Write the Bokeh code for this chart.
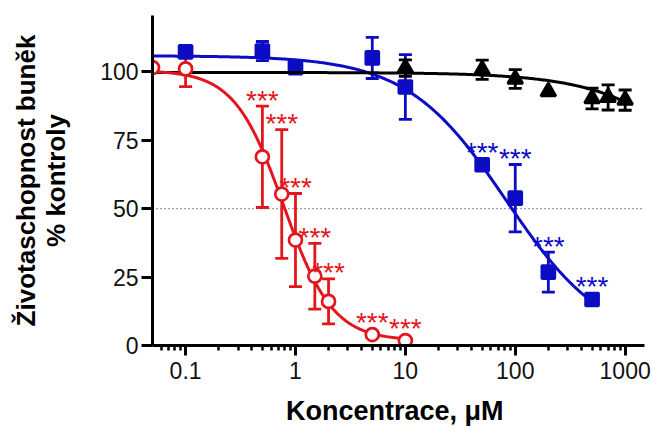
import numpy as np
from bokeh.plotting import figure
from bokeh.models import Range1d, FixedTicker, Whisker, TeeHead, ColumnDataSource, Span
from bokeh.embed import file_html
from bokeh.resources import INLINE
from bokeh.core.properties import value

# ---- data ----
red_x = [0.05, 0.1, 0.5, 0.75, 1, 1.5, 2, 5, 10]
red_y = [101.5, 101.0, 68.9, 55.3, 38.5, 25.3, 16.1, 4.0, 1.8]
red_err = [0, 6.5, 18.5, 23.5, 17.0, 12.0, 8.2, 0, 0]
red_sig = ["", "", "***", "***", "***", "***", "***", "***", "***"]

blue_x = [0.1, 0.5, 1, 5, 10, 50, 100, 200, 500]
blue_y = [107.2, 107.5, 101.5, 105.0, 94.4, 66.0, 53.8, 26.8, 16.8]
blue_err = [1.5, 3.5, 0, 7.5, 11.8, 0, 12.3, 7.3, 0]
blue_sig = ["", "", "", "", "", "***", "***", "***", "***"]

black_x = [10, 50, 100, 200, 500, 700, 1000]
black_y = [101.3, 100.7, 97.3, 92.7, 90.2, 90.6, 89.6]
black_err = [3.0, 3.5, 3.4, 0, 3.8, 4.6, 3.7]

# four-parameter logistic fits (top, bottom, EC50, Hill slope)
red_fit = dict(top=100.5, bottom=1.8, ec50=0.78, hill=1.95, x_end=10)
blue_fit = dict(top=105.8, bottom=0.0, ec50=83.0, hill=0.96, x_end=500)
black_fit = dict(top=99.7, bottom=0.0, ec50=12000.0, hill=0.85, x_end=1000)

x_ticks = [0.1, 1, 10, 100, 1000]
x_tick_labels = ["0.1", "1", "10", "100", "1000"]
x_minor = [0.06, 0.07, 0.08, 0.09,
           0.2, 0.3, 0.4, 0.5, 0.6, 0.7, 0.8, 0.9,
           2, 3, 4, 5, 6, 7, 8, 9,
           20, 30, 40, 50, 60, 70, 80, 90,
           200, 300, 400, 500, 600, 700, 800, 900]
y_ticks = [0, 25, 50, 75, 100]
y_tick_labels = ["0", "25", "50", "75", "100"]

x_title = "Koncentrace,  μM"
y_title = "Životaschopnost buněk\n% kontroly"

RED = "#e3161d"
BLUE = "#0c0cc4"
BLACK = "#000000"
FONT = "Liberation Sans"

X_START, X_END = 0.05, 1500

p = figure(width=651, height=429, x_axis_type="log",
           x_range=Range1d(X_START, X_END), y_range=Range1d(0, 120.5),
           output_backend="svg", toolbar_location=None,
           min_border_left=152, min_border_right=7, min_border_top=15, min_border_bottom=84)
p.outline_line_color = None
p.xgrid.visible = False
p.ygrid.visible = False
p.background_fill_color = "white"
p.border_fill_color = "white"

# axes
p.xaxis.ticker = FixedTicker(ticks=x_ticks, minor_ticks=x_minor)
p.xaxis.major_label_overrides = {t: l for t, l in zip(x_ticks, x_tick_labels)}
p.yaxis.ticker = FixedTicker(ticks=y_ticks)
p.yaxis.major_label_overrides = {t: l for t, l in zip(y_ticks, y_tick_labels)}
for ax in (p.xaxis, p.yaxis):
    ax.axis_line_width = 3
    ax.axis_line_color = "black"
    ax.major_tick_line_width = 3
    ax.major_tick_line_color = "black"
    ax.major_tick_in = 0
    ax.minor_tick_in = 0
    ax.major_label_text_font = FONT
    ax.major_label_text_font_size = "23px"
    ax.major_label_text_color = "#111111"
    ax.axis_label_text_font = FONT
    ax.axis_label_text_font_style = "bold"
    ax.axis_label_text_color = "black"
p.xaxis.major_tick_out = 10
p.xaxis.minor_tick_out = 5
p.xaxis.minor_tick_line_width = 2.5
p.xaxis.minor_tick_line_color = "black"
p.xaxis.major_label_standoff = 6
p.xaxis.axis_label = x_title
p.xaxis.axis_label_text_font_size = "27px"
p.xaxis.axis_label_standoff = 14
p.yaxis.major_tick_out = 11
p.yaxis.minor_tick_line_color = None
p.yaxis.major_label_standoff = 3
p.yaxis.axis_label = y_title
p.yaxis.axis_label_text_font_size = "26px"
p.yaxis.axis_label_standoff = 26
p.yaxis.axis_label_text_line_height = 1.0

# 50 % reference line
p.add_layout(Span(location=50, dimension="width", line_color="#444444",
                  line_width=1.3, line_dash="1 3", level="underlay"))


def fit_curve(f):
    xs = np.logspace(np.log10(X_START), np.log10(f["x_end"]), 300)
    ys = f["bottom"] + (f["top"] - f["bottom"]) / (1 + (xs / f["ec50"]) ** f["hill"])
    return xs, ys


def series(xs, ys, errs, sig, color, marker, size, fill, fit):
    cx, cy = fit_curve(fit)
    p.line(cx, cy, line_color=color, line_width=3)
    idx = [i for i, e in enumerate(errs) if e > 0]
    wsrc = ColumnDataSource(dict(x=[xs[i] for i in idx],
                                 upper=[ys[i] + errs[i] for i in idx],
                                 lower=[ys[i] - errs[i] for i in idx]))
    w = Whisker(source=wsrc, base="x", upper="upper", lower="lower", dimension="height",
                line_color=color, line_width=2.8,
                upper_head=TeeHead(size=13, line_color=color, line_width=2.8),
                lower_head=TeeHead(size=13, line_color=color, line_width=2.8))
    p.add_layout(w)
    p.scatter(xs, ys, marker=marker, size=size, line_color=color, line_width=2.7,
              fill_color=fill)
    sidx = [i for i, s in enumerate(sig) if s]
    ssrc = ColumnDataSource(dict(
        x=[xs[i] for i in sidx],
        y=[max(ys[i] + errs[i], ys[i] + 2.4) + 4.0 for i in sidx],
        t=[sig[i] for i in sidx]))
    p.text(x="x", y="y", text="t", source=ssrc, text_color=color,
           text_font=value(FONT), text_font_size="28px",
           text_align="center", text_baseline="alphabetic", y_offset=5)


series(blue_x, blue_y, blue_err, blue_sig, BLUE, "square", 13, BLUE, blue_fit)
series(black_x, black_y, black_err, [""] * len(black_x), BLACK, "triangle", 15, BLACK, black_fit)
series(red_x, red_y, red_err, red_sig, RED, "circle", 13, "white", red_fit)

open("out.html", "w").write(file_html(p, INLINE))
